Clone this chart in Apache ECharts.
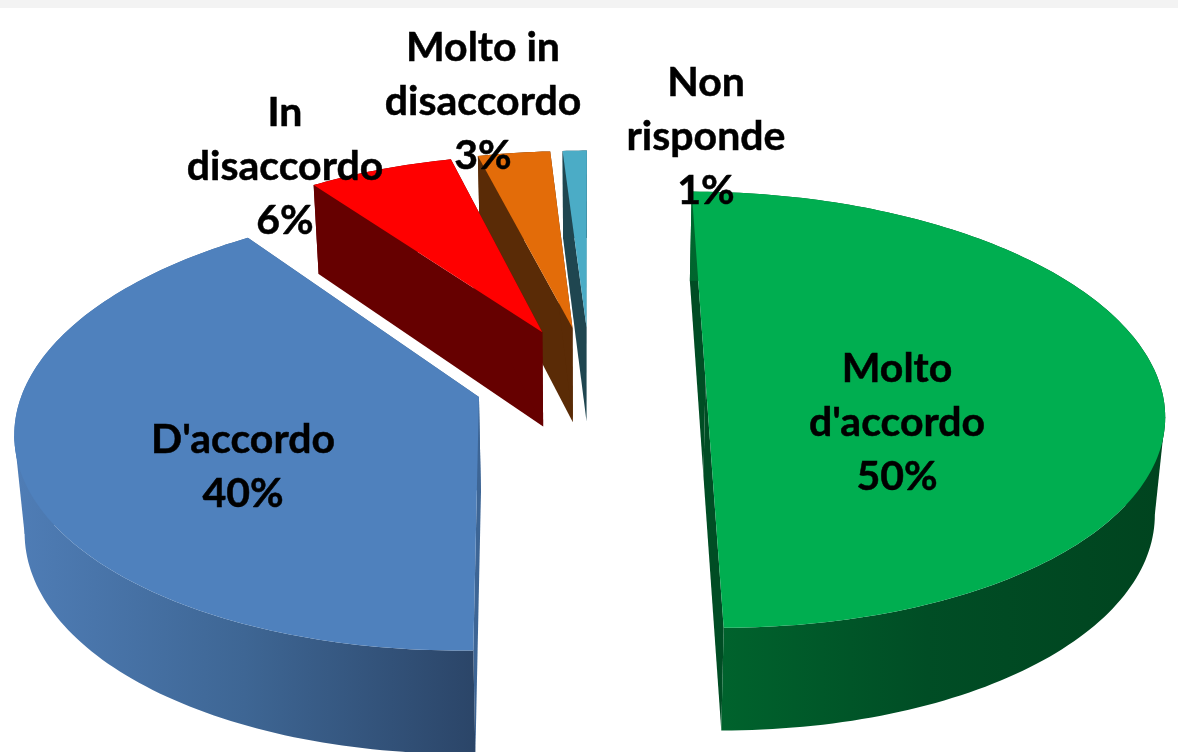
<!DOCTYPE html>
<html>
<head>
<meta charset="utf-8">
<title>Grafico a torta</title>
<style>
    html, body { margin: 0; padding: 0; background: #fff; }
    #main { width: 1178px; height: 752px; }
</style>
<script src="https://cdn.jsdelivr.net/npm/echarts@6/dist/echarts.min.js"></script>
</head>
<body>
<div id="main"></div>
<script>
    // dati
    var categories = ["Molto\nd'accordo", "D'accordo", "In\ndisaccordo", "Molto in\ndisaccordo", "Non\nrisponde"];
    var values = [50, 40, 6, 3, 1];

    // colori: faccia superiore, taglio, bordo (sx -> dx)
    var topColors = ['#00AE50', '#4F81BD', '#FF0000', '#E36C09', '#4BACC6'];
    var cutColors = ['#004D24', '#3D6595', '#660000', '#5A2B06', '#1F4650'];
    var rimLeft = ['#00662E', '#4F7DB6', '#660000', '#5A2B06', '#1F4650'];
    var rimMid = ['#004D25', '#3E6694', '#660000', '#5A2B06', '#1F4650'];
    var rimRight = ['#00441F', '#2B4568', '#660000', '#5A2B06', '#1F4650'];

    // centro etichette
    var labelX = [897, 243, 285, 483, 706];
    var labelY = [423, 467, 167, 102, 137];

    // prospettiva della torta
    var cx = 590, cy = 380;
    var rx = 453, ry = 214, k = 0.136;
    var explode = 0.255, shrink = 0.982;
    var depthBase = 96, depthSlope = 6.8;
    var startNudge = [0, -0.0227, 0, 0, 0];

    var total = values.reduce(function (a, b) { return a + b; }, 0);

    function project(X, Z, bottom) {
        var w = 1 - k * Z;
        var x = cx + rx * X / w;
        var y = cy + ry * Z / w;
        if (bottom) {
            x = cx + (x - cx) * shrink;
            y += depthBase + depthSlope * Z;
        }
        return [x, y];
    }

    function sliceAngles(idx) {
        var before = 0;
        for (var i = 0; i < idx; i++) before += values[i];
        return [before / total * Math.PI * 2, (before + values[idx]) / total * Math.PI * 2];
    }

    // indice del punto piu a sinistra (sign -1) o piu a destra (sign 1)
    function extremeIndex(arc, sign) {
        var best = 0;
        for (var j = 1; j < arc.length; j++) {
            if (arc[j][0] * sign > arc[best][0] * sign) best = j;
        }
        return best;
    }

    function renderSlice(params, api) {
        var i = params.dataIndex;
        var ang = sliceAngles(i);
        var mid = (ang[0] + ang[1]) / 2;
        var ox = Math.sin(mid) * explode;
        var oz = -Math.cos(mid) * explode;
        var from = ang[0] + startNudge[i];
        var steps = Math.max(6, Math.round((ang[1] - from) / 0.02));

        var topArc = [], botArc = [];
        for (var s = 0; s <= steps; s++) {
            var a = from + (ang[1] - from) * s / steps;
            var X = ox + Math.sin(a);
            var Z = oz - Math.cos(a);
            topArc.push(project(X, Z, false));
            botArc.push(project(X, Z, true));
        }
        var apexTop = project(ox, oz, false);
        var apexBot = project(ox, oz, true);
        var z2 = 10 - i;
        var children = [];

        function poly(points, fill) {
            children.push({
                type: 'polygon',
                z2: z2,
                shape: { points: points },
                style: { fill: fill, stroke: null }
            });
        }

        // tagli
        poly([apexTop, topArc[0], botArc[0], apexBot], cutColors[i]);
        poly([apexTop, topArc[steps], botArc[steps], apexBot], cutColors[i]);

        // bordo
        var xs = topArc.concat(botArc).map(function (p) { return p[0]; });
        var rimFill = new echarts.graphic.LinearGradient(Math.min.apply(null, xs), 0, Math.max.apply(null, xs), 0, [
            { offset: 0, color: rimLeft[i] },
            { offset: 0.5, color: rimMid[i] },
            { offset: 1, color: rimRight[i] }
        ], true);
        poly(topArc.concat(botArc.slice().reverse()), rimFill);

        // raccordo sulla sagoma esterna dove i due archi si incrociano
        [-1, 1].forEach(function (sign) {
            var iT = extremeIndex(topArc, sign);
            var iB = extremeIndex(botArc, sign);
            if (iT > 0 && iT < steps && iB > 0 && iB < steps) {
                poly([topArc[iT], botArc[iB], apexTop], rimFill);
            }
        });

        // faccia superiore
        poly([apexTop].concat(topArc), topColors[i]);

        children.push({
            type: 'text',
            z2: 100,
            style: {
                text: categories[i] + '\n' + api.value(0) + '%',
                x: labelX[i],
                y: labelY[i],
                fill: '#000',
                stroke: '#000',
                lineWidth: 0.5,
                align: 'center',
                verticalAlign: 'middle',
                lineHeight: 54,
                font: 'bold 41px Lato'
            }
        });
        return { type: 'group', children: children };
    }

    var myChart = echarts.init(document.getElementById('main'), null, { renderer: 'canvas' });
    myChart.setOption({
        animation: false,
        backgroundColor: '#fff',
        graphic: [{
            type: 'rect',
            shape: { x: 0, y: 0, width: 1178, height: 8 },
            style: { fill: '#F3F3F3' }
        }],
        series: [{
            type: 'custom',
            coordinateSystem: 'none',
            renderItem: renderSlice,
            data: values.map(function (v) { return [v]; })
        }]
    });
</script>
</body>
</html>
